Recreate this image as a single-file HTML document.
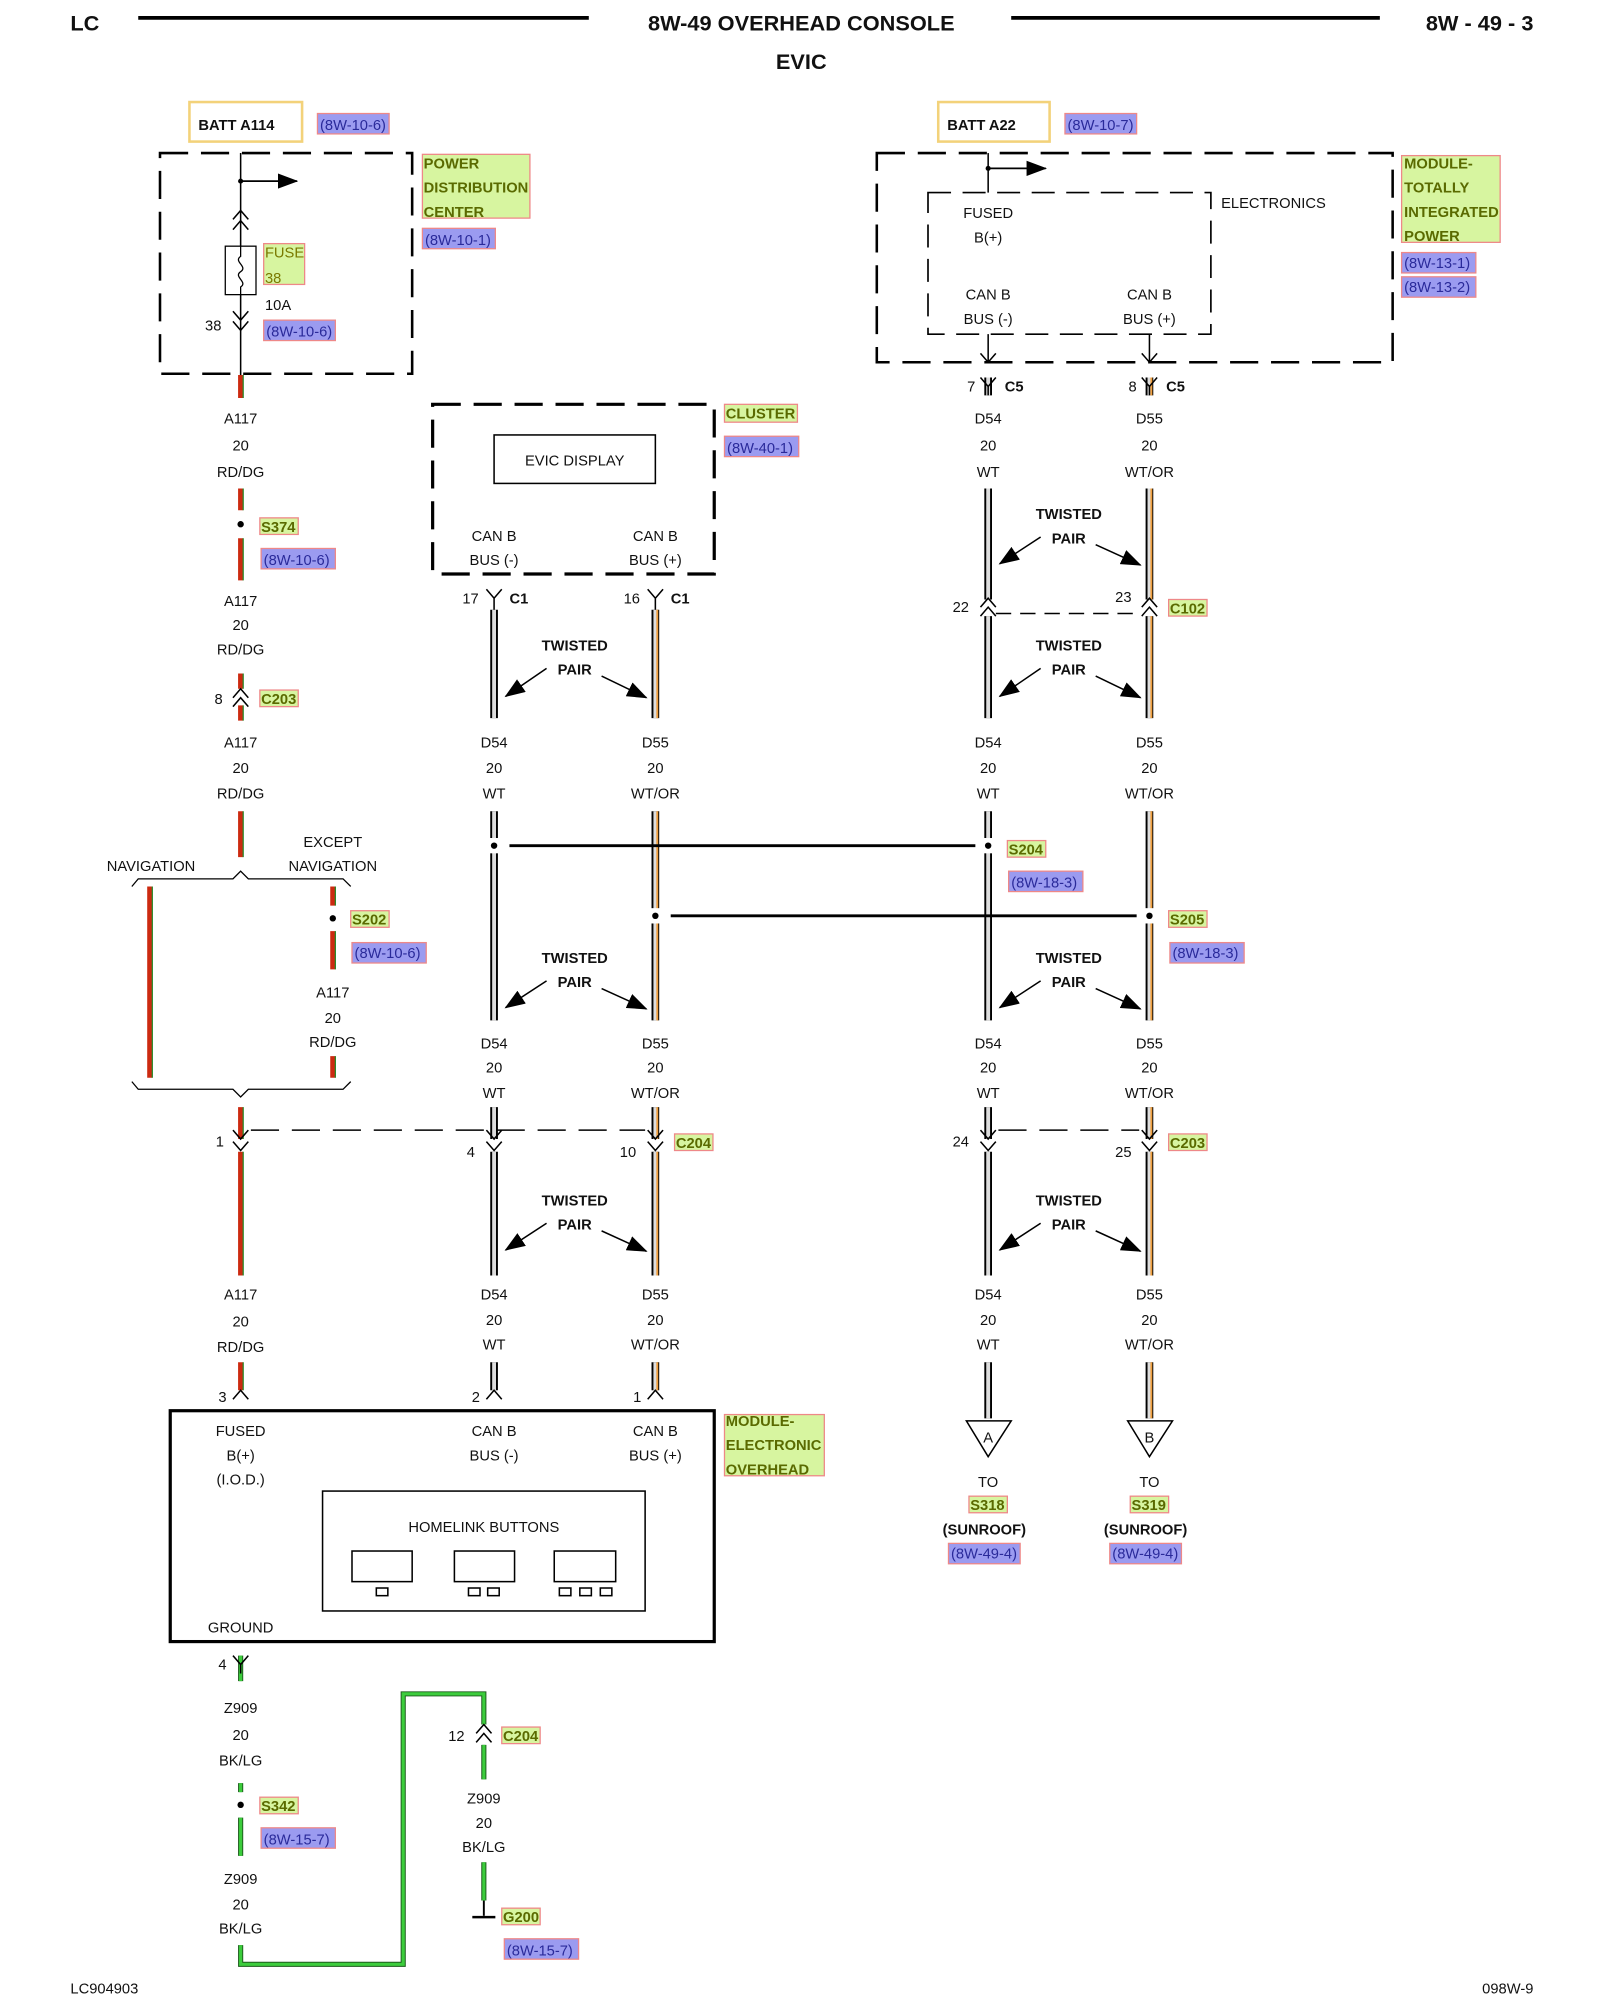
<!DOCTYPE html>
<html><head><meta charset="utf-8"><style>
html,body{margin:0;padding:0;background:#fff;}
svg{display:block;}
text{font-family:"Liberation Sans",sans-serif;font-size:11.5px;fill:#111;}
.c{text-anchor:middle;}
.b{font-weight:bold;}
.ref{fill:#2a2a9a;}
.grn{fill:#5a6a00;font-weight:bold;}
</style></head><body>
<svg width="1600" height="2000" viewBox="0 0 1250 1568" preserveAspectRatio="none" xmlns="http://www.w3.org/2000/svg">
<defs>
<path id="wt1" d="M386 478V563 M386 636V800 M386 868V893 M386 903V1000 M386 1068V1090"/>
<path id="wt2" d="M772 296V310 M772 383V470 M772 483V563 M772 636V800 M772 868V893 M772 903V1000 M772 1068V1112"/>
<path id="or1" d="M512 478V563 M512 636V800 M512 868V893 M512 903V1000 M512 1068V1090"/>
<path id="or2" d="M898 296V310 M898 383V470 M898 483V563 M898 636V800 M898 868V893 M898 903V1000 M898 1068V1112"/>
<path id="rd" d="M188 294V312 M188 383V400 M188 422V455 M188 528V540 M188 553V565 M188 636V672 M188 868V893 M188 903V1000 M188 1068V1090 M117 695V845 M260 695V710 M260 730V760 M260 828V845"/>
<path id="gn" d="M188 1298V1318 M188 1398V1405 M188 1425V1455 M188 1525V1540H315V1328H378V1352 M378 1368V1395 M378 1460V1490"/>
<marker id="ah2" markerWidth="16" markerHeight="12" refX="15" refY="6" orient="auto" markerUnits="userSpaceOnUse"><path d="M0 0L16 6L0 12Z" fill="#000"/></marker>
</defs>

<!-- Header -->
<text x="55" y="24" class="b" style="font-size:17px">LC</text>
<line x1="108" y1="14" x2="460" y2="14" stroke="#000" stroke-width="3"/>
<text x="626" y="24" class="b c" style="font-size:17px">8W-49 OVERHEAD CONSOLE</text>
<line x1="790" y1="14" x2="1078" y2="14" stroke="#000" stroke-width="3"/>
<text x="1198" y="24" class="b" style="font-size:17px;text-anchor:end">8W - 49 - 3</text>
<text x="626" y="54" class="b c" style="font-size:17px">EVIC</text>

<!-- wires -->
<g fill="none">
<use href="#wt1" stroke="#000" stroke-width="6"/><use href="#wt1" stroke="#ddd" stroke-width="3"/>
<use href="#wt2" stroke="#000" stroke-width="6"/><use href="#wt2" stroke="#ddd" stroke-width="3"/>
<use href="#or1" stroke="#000" stroke-width="6"/><use href="#or1" stroke="#ddd" stroke-width="3"/><use href="#or1" stroke="#f0a040" stroke-width="1.5" x="1.5"/>
<use href="#or2" stroke="#000" stroke-width="6"/><use href="#or2" stroke="#ddd" stroke-width="3"/><use href="#or2" stroke="#f0a040" stroke-width="1.5" x="1.5"/>
<use href="#rd" stroke="#cc2a10" stroke-width="4"/><use href="#rd" stroke="#2a8a2a" stroke-width="1" x="2"/>
<use href="#gn" stroke="#1a5a1a" stroke-width="4"/><use href="#gn" stroke="#3ccc3c" stroke-width="2.5"/>
</g>

<!-- Batt boxes -->
<rect x="148" y="80" width="88" height="31" fill="#fff" stroke="#f3d27a" stroke-width="2"/>
<text x="155" y="102" class="b">BATT A114</text>
<rect x="248" y="89" width="56" height="16" fill="#9b9bf0" stroke="#e88" stroke-width="1"/>
<text x="250" y="102" class="ref">(8W-10-6)</text>
<rect x="733" y="80" width="87" height="31" fill="#fff" stroke="#f3d27a" stroke-width="2"/>
<text x="740" y="102" class="b">BATT A22</text>
<rect x="832" y="89" width="56" height="16" fill="#9b9bf0" stroke="#e88" stroke-width="1"/>
<text x="834" y="102" class="ref">(8W-10-7)</text>

<!-- PDC -->
<rect x="125" y="120" width="197" height="173" fill="none" stroke="#000" stroke-width="2" stroke-dasharray="22,10"/>
<line x1="188" y1="120" x2="188" y2="294" stroke="#000" stroke-width="1.2"/>
<circle cx="188" cy="142" r="2" fill="#000"/>
<line x1="188" y1="142" x2="232" y2="142" stroke="#000" stroke-width="1.3" marker-end="url(#ah2)"/>
<path d="M182 172L188 165L194 172M182 180L188 173L194 180" fill="none" stroke="#000" stroke-width="1.2"/>
<rect x="176" y="193" width="24" height="38" fill="#fff" stroke="#000" stroke-width="1"/>
<path d="M188 193v8c-6 4 6 8 0 12s6 8 0 12v6" fill="none" stroke="#000" stroke-width="1"/>
<path d="M182 244L188 251L194 244M182 252L188 259L194 252" fill="none" stroke="#000" stroke-width="1.2"/>
<rect x="206" y="191" width="32" height="32" fill="#d7f5a0" stroke="#e88"/>
<text x="207" y="202" style="fill:#7a7a00">FUSE</text>
<text x="207" y="222" style="fill:#7a7a00">38</text>
<text x="207" y="243">10A</text>
<text x="173" y="259" style="text-anchor:end">38</text>
<rect x="206" y="251" width="56" height="16" fill="#9b9bf0" stroke="#e88"/>
<text x="208" y="264" class="ref">(8W-10-6)</text>
<rect x="330" y="121" width="84" height="50" fill="#d7f5a0" stroke="#e88"/>
<text x="331" y="132" class="grn">POWER</text>
<text x="331" y="151" class="grn">DISTRIBUTION</text>
<text x="331" y="170" class="grn">CENTER</text>
<rect x="330" y="179" width="57" height="16" fill="#9b9bf0" stroke="#e88"/>
<text x="332" y="192" class="ref">(8W-10-1)</text>

<!-- TIPM -->
<rect x="685" y="120" width="403" height="164" fill="none" stroke="#000" stroke-width="2" stroke-dasharray="22,10"/>
<rect x="725" y="151" width="221" height="111" fill="none" stroke="#000" stroke-width="1.3" stroke-dasharray="18,9"/>
<line x1="772" y1="120" x2="772" y2="151" stroke="#000" stroke-width="1.2"/>
<circle cx="772" cy="132" r="2" fill="#000"/>
<line x1="772" y1="132" x2="817" y2="132" stroke="#000" stroke-width="1.3" marker-end="url(#ah2)"/>
<text x="772" y="171" class="c">FUSED</text><text x="772" y="190" class="c">B(+)</text>
<text x="772" y="235" class="c">CAN B</text><text x="772" y="254" class="c">BUS (-)</text>
<text x="898" y="235" class="c">CAN B</text><text x="898" y="254" class="c">BUS (+)</text>
<text x="954" y="163">ELECTRONICS</text>
<path d="M772 262V284M766 277L772 284L778 277M898 262V284M892 277L898 284L904 277" fill="none" stroke="#000" stroke-width="1.2"/>
<path d="M766 296L772 303L778 296M772 303V310M892 296L898 303L904 296M898 303V310" fill="none" stroke="#000" stroke-width="1.2"/>
<text x="762" y="307" style="text-anchor:end">7</text><text x="785" y="307" class="b">C5</text>
<text x="888" y="307" style="text-anchor:end">8</text><text x="911" y="307" class="b">C5</text>
<rect x="1095" y="122" width="77" height="68" fill="#d7f5a0" stroke="#e88"/>
<text x="1097" y="132" class="grn">MODULE-</text>
<text x="1097" y="151" class="grn">TOTALLY</text>
<text x="1097" y="170" class="grn">INTEGRATED</text>
<text x="1097" y="189" class="grn">POWER</text>
<rect x="1095" y="198" width="58" height="16" fill="#9b9bf0" stroke="#e88"/>
<text x="1097" y="210" class="ref">(8W-13-1)</text>
<rect x="1095" y="217" width="58" height="16" fill="#9b9bf0" stroke="#e88"/>
<text x="1097" y="229" class="ref">(8W-13-2)</text>

<!-- Cluster -->
<rect x="338" y="317" width="220" height="133" fill="none" stroke="#000" stroke-width="2.5" stroke-dasharray="22,10"/>
<rect x="386" y="341" width="126" height="38" fill="none" stroke="#000" stroke-width="1.2"/>
<text x="449" y="365" class="c">EVIC DISPLAY</text>
<text x="386" y="424" class="c">CAN B</text><text x="386" y="443" class="c">BUS (-)</text>
<text x="512" y="424" class="c">CAN B</text><text x="512" y="443" class="c">BUS (+)</text>
<rect x="566" y="317" width="57" height="14" fill="#d7f5a0" stroke="#e88"/>
<text x="567" y="328" class="grn">CLUSTER</text>
<rect x="566" y="342" width="58" height="16" fill="#9b9bf0" stroke="#e88"/>
<text x="568" y="355" class="ref">(8W-40-1)</text>
<path d="M380 462L386 469L392 462M386 469V478M506 462L512 469L518 462M512 469V478" fill="none" stroke="#000" stroke-width="1.2"/>
<text x="374" y="473" style="text-anchor:end">17</text><text x="398" y="473" class="b">C1</text>
<text x="500" y="473" style="text-anchor:end">16</text><text x="524" y="473" class="b">C1</text>

<!-- Left column labels -->
<g>
<text x="188" y="332" class="c">A117</text><text x="188" y="353" class="c">20</text><text x="188" y="374" class="c">RD/DG</text>
<text x="188" y="475" class="c">A117</text><text x="188" y="494" class="c">20</text><text x="188" y="513" class="c">RD/DG</text>
<text x="188" y="586" class="c">A117</text><text x="188" y="606" class="c">20</text><text x="188" y="626" class="c">RD/DG</text>
<text x="260" y="782" class="c">A117</text><text x="260" y="802" class="c">20</text><text x="260" y="821" class="c">RD/DG</text>
<text x="188" y="1019" class="c">A117</text><text x="188" y="1040" class="c">20</text><text x="188" y="1060" class="c">RD/DG</text>
<text x="188" y="1343" class="c">Z909</text><text x="188" y="1364" class="c">20</text><text x="188" y="1384" class="c">BK/LG</text>
<text x="188" y="1477" class="c">Z909</text><text x="188" y="1497" class="c">20</text><text x="188" y="1516" class="c">BK/LG</text>
<text x="378" y="1414" class="c">Z909</text><text x="378" y="1433" class="c">20</text><text x="378" y="1452" class="c">BK/LG</text>
</g>
<circle cx="188" cy="411" r="2.5" fill="#000"/>
<rect x="203" y="406" width="30" height="13" fill="#d7f5a0" stroke="#e88"/><text x="204" y="417" class="grn">S374</text>
<rect x="204" y="430" width="58" height="16" fill="#9b9bf0" stroke="#e88"/><text x="206" y="443" class="ref">(8W-10-6)</text>
<path d="M182 547L188 540L194 547M182 554L188 547L194 554" fill="none" stroke="#000" stroke-width="1.2"/>
<text x="174" y="552" style="text-anchor:end">8</text>
<rect x="203" y="541" width="30" height="13" fill="#d7f5a0" stroke="#e88"/><text x="204" y="552" class="grn">C203</text>

<text x="118" y="683" class="c">NAVIGATION</text>
<text x="260" y="664" class="c">EXCEPT</text><text x="260" y="683" class="c">NAVIGATION</text>
<path d="M103 695L108 689H182L188 683L194 689H268L274 695" fill="none" stroke="#000" stroke-width="1"/>
<path d="M103 848L108 854H182L188 860L194 854H268L274 848" fill="none" stroke="#000" stroke-width="1"/>
<circle cx="260" cy="720" r="2.5" fill="#000"/>
<rect x="274" y="714" width="30" height="13" fill="#d7f5a0" stroke="#e88"/><text x="275" y="725" class="grn">S202</text>
<rect x="275" y="739" width="58" height="16" fill="#9b9bf0" stroke="#e88"/><text x="277" y="751" class="ref">(8W-10-6)</text>

<!-- Twisted pair labels -->
<g>
<text x="449" y="510" class="b c">TWISTED</text><text x="449" y="529" class="b c">PAIR</text>
<line x1="427" y1="524" x2="395" y2="546" stroke="#000" stroke-width="1.2" marker-end="url(#ah2)"/>
<line x1="470" y1="530" x2="505" y2="547" stroke="#000" stroke-width="1.2" marker-end="url(#ah2)"/>
<text x="835" y="407" class="b c">TWISTED</text><text x="835" y="426" class="b c">PAIR</text>
<line x1="813" y1="421" x2="781" y2="442" stroke="#000" stroke-width="1.2" marker-end="url(#ah2)"/>
<line x1="856" y1="427" x2="891" y2="443" stroke="#000" stroke-width="1.2" marker-end="url(#ah2)"/>
<text x="835" y="510" class="b c">TWISTED</text><text x="835" y="529" class="b c">PAIR</text>
<line x1="813" y1="524" x2="781" y2="546" stroke="#000" stroke-width="1.2" marker-end="url(#ah2)"/>
<line x1="856" y1="530" x2="891" y2="547" stroke="#000" stroke-width="1.2" marker-end="url(#ah2)"/>
<text x="449" y="755" class="b c">TWISTED</text><text x="449" y="774" class="b c">PAIR</text>
<line x1="427" y1="769" x2="395" y2="790" stroke="#000" stroke-width="1.2" marker-end="url(#ah2)"/>
<line x1="470" y1="775" x2="505" y2="791" stroke="#000" stroke-width="1.2" marker-end="url(#ah2)"/>
<text x="835" y="755" class="b c">TWISTED</text><text x="835" y="774" class="b c">PAIR</text>
<line x1="813" y1="769" x2="781" y2="790" stroke="#000" stroke-width="1.2" marker-end="url(#ah2)"/>
<line x1="856" y1="775" x2="891" y2="791" stroke="#000" stroke-width="1.2" marker-end="url(#ah2)"/>
<text x="449" y="945" class="b c">TWISTED</text><text x="449" y="964" class="b c">PAIR</text>
<line x1="427" y1="959" x2="395" y2="980" stroke="#000" stroke-width="1.2" marker-end="url(#ah2)"/>
<line x1="470" y1="965" x2="505" y2="981" stroke="#000" stroke-width="1.2" marker-end="url(#ah2)"/>
<text x="835" y="945" class="b c">TWISTED</text><text x="835" y="964" class="b c">PAIR</text>
<line x1="813" y1="959" x2="781" y2="980" stroke="#000" stroke-width="1.2" marker-end="url(#ah2)"/>
<line x1="856" y1="965" x2="891" y2="981" stroke="#000" stroke-width="1.2" marker-end="url(#ah2)"/>
</g>

<!-- Wire labels for D54/D55 -->
<g>
<text x="772" y="332" class="c">D54</text><text x="772" y="353" class="c">20</text><text x="772" y="374" class="c">WT</text>
<text x="898" y="332" class="c">D55</text><text x="898" y="353" class="c">20</text><text x="898" y="374" class="c">WT/OR</text>
<text x="386" y="586" class="c">D54</text><text x="386" y="606" class="c">20</text><text x="386" y="626" class="c">WT</text>
<text x="512" y="586" class="c">D55</text><text x="512" y="606" class="c">20</text><text x="512" y="626" class="c">WT/OR</text>
<text x="772" y="586" class="c">D54</text><text x="772" y="606" class="c">20</text><text x="772" y="626" class="c">WT</text>
<text x="898" y="586" class="c">D55</text><text x="898" y="606" class="c">20</text><text x="898" y="626" class="c">WT/OR</text>
<text x="386" y="822" class="c">D54</text><text x="386" y="841" class="c">20</text><text x="386" y="861" class="c">WT</text>
<text x="512" y="822" class="c">D55</text><text x="512" y="841" class="c">20</text><text x="512" y="861" class="c">WT/OR</text>
<text x="772" y="822" class="c">D54</text><text x="772" y="841" class="c">20</text><text x="772" y="861" class="c">WT</text>
<text x="898" y="822" class="c">D55</text><text x="898" y="841" class="c">20</text><text x="898" y="861" class="c">WT/OR</text>
<text x="386" y="1019" class="c">D54</text><text x="386" y="1039" class="c">20</text><text x="386" y="1058" class="c">WT</text>
<text x="512" y="1019" class="c">D55</text><text x="512" y="1039" class="c">20</text><text x="512" y="1058" class="c">WT/OR</text>
<text x="772" y="1019" class="c">D54</text><text x="772" y="1039" class="c">20</text><text x="772" y="1058" class="c">WT</text>
<text x="898" y="1019" class="c">D55</text><text x="898" y="1039" class="c">20</text><text x="898" y="1058" class="c">WT/OR</text>
</g>

<!-- C102 -->
<path d="M766 476L772 469L778 476M766 483L772 476L778 483M892 476L898 469L904 476M892 483L898 476L904 483" fill="none" stroke="#000" stroke-width="1.2"/>
<line x1="778" y1="481" x2="892" y2="481" stroke="#000" stroke-width="1.2" stroke-dasharray="12,7"/>
<text x="757" y="480" style="text-anchor:end">22</text><text x="884" y="472" style="text-anchor:end">23</text>
<rect x="913" y="470" width="30" height="13" fill="#d7f5a0" stroke="#e88"/><text x="914" y="481" class="grn">C102</text>

<!-- splices -->
<line x1="398" y1="663" x2="762" y2="663" stroke="#000" stroke-width="2.2"/>
<line x1="524" y1="718" x2="888" y2="718" stroke="#000" stroke-width="2.2"/>
<rect x="380" y="657" width="12" height="12" fill="#fff"/><circle cx="386" cy="663" r="2.5" fill="#000"/>
<rect x="766" y="657" width="12" height="12" fill="#fff"/><circle cx="772" cy="663" r="2.5" fill="#000"/>
<rect x="506" y="712" width="12" height="12" fill="#fff"/><circle cx="512" cy="718" r="2.5" fill="#000"/>
<rect x="892" y="712" width="12" height="12" fill="#fff"/><circle cx="898" cy="718" r="2.5" fill="#000"/>
<rect x="787" y="659" width="30" height="13" fill="#d7f5a0" stroke="#e88"/><text x="788" y="670" class="grn">S204</text>
<rect x="788" y="683" width="58" height="16" fill="#9b9bf0" stroke="#e88"/><text x="790" y="696" class="ref">(8W-18-3)</text>
<rect x="913" y="714" width="30" height="13" fill="#d7f5a0" stroke="#e88"/><text x="914" y="725" class="grn">S205</text>
<rect x="914" y="739" width="58" height="16" fill="#9b9bf0" stroke="#e88"/><text x="916" y="751" class="ref">(8W-18-3)</text>

<!-- C204 / C203 row -->
<path d="M182 886L188 893L194 886M182 895L188 902L194 895M380 886L386 893L392 886M380 895L386 902L392 895M506 886L512 893L518 886M506 895L512 902L518 895M766 886L772 893L778 886M766 895L772 902L778 895M892 886L898 893L904 886M892 895L898 902L904 895" fill="none" stroke="#000" stroke-width="1.2"/>
<line x1="196" y1="886" x2="504" y2="886" stroke="#000" stroke-width="1.2" stroke-dasharray="22,10"/>
<line x1="780" y1="886" x2="890" y2="886" stroke="#000" stroke-width="1.2" stroke-dasharray="22,10"/>
<text x="175" y="899" style="text-anchor:end">1</text>
<text x="371" y="907" style="text-anchor:end">4</text>
<text x="497" y="907" style="text-anchor:end">10</text>
<text x="757" y="899" style="text-anchor:end">24</text>
<text x="884" y="907" style="text-anchor:end">25</text>
<rect x="527" y="889" width="30" height="13" fill="#d7f5a0" stroke="#e88"/><text x="528" y="900" class="grn">C204</text>
<rect x="913" y="889" width="30" height="13" fill="#d7f5a0" stroke="#e88"/><text x="914" y="900" class="grn">C203</text>

<!-- Module pins -->
<path d="M182 1097L188 1090L194 1097M380 1097L386 1090L392 1097M506 1097L512 1090L518 1097" fill="none" stroke="#000" stroke-width="1.2"/>
<text x="177" y="1099" style="text-anchor:end">3</text>
<text x="375" y="1099" style="text-anchor:end">2</text>
<text x="501" y="1099" style="text-anchor:end">1</text>

<rect x="133" y="1106" width="425" height="181" fill="none" stroke="#000" stroke-width="2.5"/>
<text x="188" y="1126" class="c">FUSED</text><text x="188" y="1145" class="c">B(+)</text><text x="188" y="1164" class="c">(I.O.D.)</text>
<text x="386" y="1126" class="c">CAN B</text><text x="386" y="1145" class="c">BUS (-)</text>
<text x="512" y="1126" class="c">CAN B</text><text x="512" y="1145" class="c">BUS (+)</text>
<rect x="252" y="1169" width="252" height="94" fill="none" stroke="#000" stroke-width="1.2"/>
<text x="378" y="1201" class="c">HOMELINK BUTTONS</text>
<g fill="none" stroke="#000" stroke-width="1.2">
<rect x="275" y="1216" width="47" height="24"/><rect x="355" y="1216" width="47" height="24"/><rect x="433" y="1216" width="48" height="24"/>
<rect x="294" y="1245" width="9" height="6"/>
<rect x="366" y="1245" width="9" height="6"/><rect x="381" y="1245" width="9" height="6"/>
<rect x="437" y="1245" width="9" height="6"/><rect x="453" y="1245" width="9" height="6"/><rect x="469" y="1245" width="9" height="6"/>
</g>
<text x="188" y="1280" class="c">GROUND</text>
<rect x="566" y="1109" width="78" height="48" fill="#d7f5a0" stroke="#e88"/>
<text x="567" y="1118" class="grn">MODULE-</text>
<text x="567" y="1137" class="grn">ELECTRONIC</text>
<text x="567" y="1156" class="grn">OVERHEAD</text>

<!-- ground -->
<path d="M182 1298L188 1305L194 1298M188 1305V1312" fill="none" stroke="#000" stroke-width="1.2"/>
<text x="177" y="1309" style="text-anchor:end">4</text>
<circle cx="188" cy="1415" r="2.5" fill="#000"/>
<rect x="203" y="1409" width="30" height="13" fill="#d7f5a0" stroke="#e88"/><text x="204" y="1420" class="grn">S342</text>
<rect x="204" y="1433" width="58" height="16" fill="#9b9bf0" stroke="#e88"/><text x="206" y="1446" class="ref">(8W-15-7)</text>
<path d="M372 1359L378 1352L384 1359M372 1366L378 1359L384 1366" fill="none" stroke="#000" stroke-width="1.2"/>
<text x="363" y="1365" style="text-anchor:end">12</text>
<rect x="392" y="1354" width="30" height="13" fill="#d7f5a0" stroke="#e88"/><text x="393" y="1365" class="grn">C204</text>
<line x1="378" y1="1490" x2="378" y2="1502" stroke="#000" stroke-width="1.5"/>
<line x1="369" y1="1503" x2="387" y2="1503" stroke="#000" stroke-width="2"/>
<rect x="392" y="1496" width="30" height="13" fill="#d7f5a0" stroke="#e88"/><text x="393" y="1507" class="grn">G200</text>
<rect x="394" y="1520" width="58" height="16" fill="#9b9bf0" stroke="#e88"/><text x="396" y="1533" class="ref">(8W-15-7)</text>

<!-- off-page triangles -->
<path d="M755 1114H790L772 1142Z" fill="#fff" stroke="#000" stroke-width="1.2"/>
<text x="772" y="1131" class="c">A</text>
<path d="M881 1114H916L898 1142Z" fill="#fff" stroke="#000" stroke-width="1.2"/>
<text x="898" y="1131" class="c">B</text>
<text x="772" y="1166" class="c">TO</text><text x="898" y="1166" class="c">TO</text>
<rect x="757" y="1173" width="30" height="13" fill="#d7f5a0" stroke="#e88"/><text x="758" y="1184" class="grn">S318</text>
<rect x="883" y="1173" width="30" height="13" fill="#d7f5a0" stroke="#e88"/><text x="884" y="1184" class="grn">S319</text>
<text x="769" y="1203" class="b c">(SUNROOF)</text><text x="895" y="1203" class="b c">(SUNROOF)</text>
<rect x="741" y="1210" width="56" height="16" fill="#9b9bf0" stroke="#e88"/><text x="743" y="1222" class="ref">(8W-49-4)</text>
<rect x="867" y="1210" width="56" height="16" fill="#9b9bf0" stroke="#e88"/><text x="869" y="1222" class="ref">(8W-49-4)</text>

<!-- footer -->
<text x="55" y="1563">LC904903</text>
<text x="1198" y="1563" style="text-anchor:end">098W-9</text>
</svg>
</body></html>
